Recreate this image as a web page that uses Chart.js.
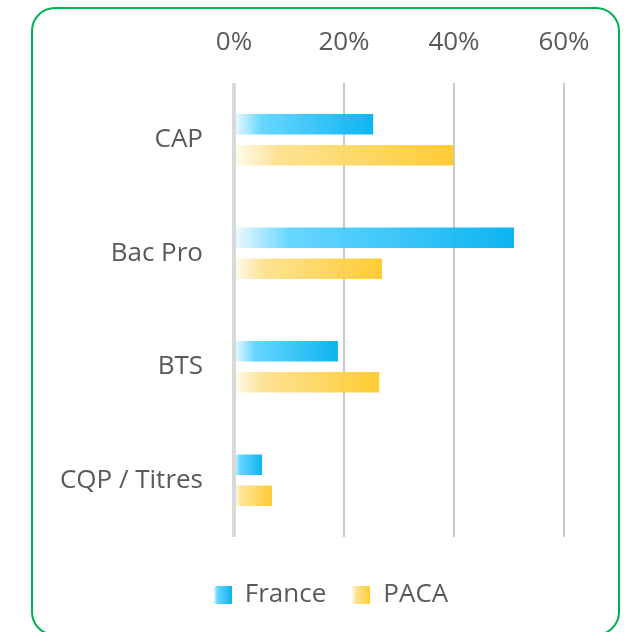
<!DOCTYPE html>
<html>
<head>
<meta charset="utf-8">
<script src="https://cdn.jsdelivr.net/npm/chart.js@4/dist/chart.umd.min.js"></script>
<style>
  html, body { margin: 0; padding: 0; background: #fff; }
  #wrap { position: relative; width: 626px; height: 632px; overflow: hidden; }
  #frame {
    position: absolute; left: 31px; top: 7px; width: 585px; height: 625px;
    border: 2px solid #00b050; border-radius: 24px; pointer-events: none;
  }
</style>
</head>
<body>
<div id="wrap">
  <canvas id="chart" width="626" height="632"></canvas>
  <div id="frame"></div>
</div>
<script>
const categories = ['CAP', 'Bac Pro', 'BTS', 'CQP / Titres'];
const franceValues = [25.3, 50.9, 18.9, 5.1];
const pacaValues = [39.9, 26.9, 26.4, 6.9];
const tickValues = [0, 20, 40, 60];

const textColor = '#595959';
const fontFamily = "'Open Sans', 'Noto Sans', sans-serif";

// gradient stops, light at the bar base, full colour at the tip
const franceStops = [[0, 'rgba(236,249,255,0.92)'], [0.2, 'rgba(90,211,255,0.92)'], [1, 'rgba(0,176,240,0.95)']];
const pacaStops = [[0, 'rgba(255,252,240,0.92)'], [0.2, 'rgba(253,224,138,0.92)'], [1, 'rgba(255,201,40,0.95)']];

function barGradient(stops) {
    return (ctx) => {
        const chart = ctx.chart;
        if (!chart.chartArea || ctx.raw == null) return stops[stops.length - 1][1];
        const xScale = chart.scales.x;
        const x0 = xScale.getPixelForValue(0);
        const x1 = xScale.getPixelForValue(ctx.raw);
        const g = chart.ctx.createLinearGradient(x0, 0, x1, 0);
        stops.forEach(([o, c]) => g.addColorStop(o, c));
        return g;
    };
}

// small square swatch for the legend
function swatch(stops) {
    const c = document.createElement('canvas');
    c.width = 18; c.height = 18;
    const g2 = c.getContext('2d');
    const g = g2.createLinearGradient(0, 0, 18, 0);
    stops.forEach(([o, col]) => g.addColorStop(o, col));
    g2.fillStyle = g;
    g2.fillRect(0, 0, 18, 18);
    return c;
}

const swatches = [swatch(franceStops), swatch(pacaStops)];

// legend sits a bit right of the canvas centre
const legendShift = {
    id: 'legendShift',
    afterLayout(chart) {
        if (!chart.legend) return;
        chart.legend.left += 49;
        chart.legend.right += 49;
    }
};

const ctx = document.getElementById('chart').getContext('2d');

new Chart(ctx, {
    type: 'bar',
    data: {
        labels: categories,
        datasets: [
            {
                label: 'France',
                data: franceValues,
                backgroundColor: barGradient(franceStops),
                categoryPercentage: 0.547,
                barPercentage: 0.66
            },
            {
                label: 'PACA',
                data: pacaValues,
                backgroundColor: barGradient(pacaStops),
                categoryPercentage: 0.547,
                barPercentage: 0.66
            }
        ]
    },
    options: {
        indexAxis: 'y',
        responsive: false,
        animation: false,
        layout: {
            padding: { top: 0, right: 62, bottom: 14, left: 0 }
        },
        scales: {
            x: {
                position: 'top',
                min: 0,
                max: 60,
                afterBuildTicks: (scale) => {
                    scale.ticks = tickValues.map(v => ({ value: v }));
                },
                afterFit: (scale) => { scale.height = 83; },
                border: { display: false },
                grid: {
                    drawTicks: false,
                    color: (c) => c.tick && c.tick.value === 0 ? '#d9d9d9' : '#c9c9c9',
                    lineWidth: (c) => c.tick && c.tick.value === 0 ? 4 : 2
                },
                ticks: {
                    padding: 25,
                    color: textColor,
                    font: { family: fontFamily, size: 26 },
                    callback: (v) => v + '%'
                }
            },
            y: {
                afterFit: (scale) => { scale.width = 234; },
                border: { display: false },
                grid: { display: false, drawTicks: false },
                ticks: {
                    padding: 31,
                    color: textColor,
                    font: { family: fontFamily, size: 26 }
                }
            }
        },
        plugins: {
            tooltip: { enabled: false },
            legend: {
                position: 'bottom',
                title: { display: true, text: '', font: { size: 10 }, padding: { top: 7, bottom: 0 } },
                labels: {
                    usePointStyle: true,
                    boxWidth: 18,
                    boxHeight: 18,
                    padding: 26,
                    color: textColor,
                    font: { family: fontFamily, size: 26 },
                    generateLabels: (chart) => chart.data.datasets.map((ds, i) => ({
                        text: ds.label,
                        pointStyle: swatches[i],
                        fillStyle: 'transparent',
                        strokeStyle: 'transparent',
                        lineWidth: 0,
                        fontColor: textColor,
                        datasetIndex: i,
                        hidden: false
                    }))
                }
            }
        }
    },
    plugins: [legendShift]
});
</script>
</body>
</html>
